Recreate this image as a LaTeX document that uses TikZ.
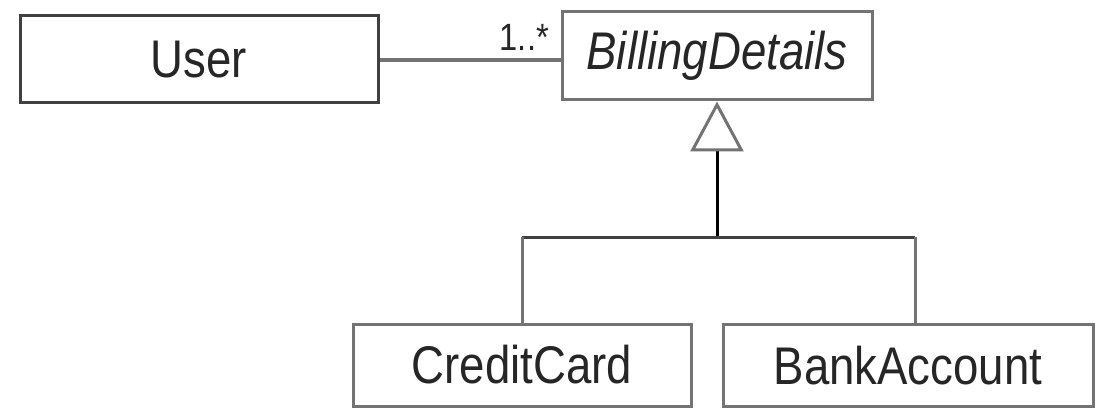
\documentclass[tikz,border=0pt]{standalone}
\usepackage{fontspec}
\newfontfamily\umlfont[FakeStretch=0.86]{Liberation Sans}
\usetikzlibrary{arrows.meta}
\tikzset{
  cls/.style={draw=#1, line width=3pt, fill=white, inner sep=0pt, font=\umlfont\fontsize{53}{60}\selectfont, text=black!85},
  cls/.default={black!55},
  link/.style={line width=3pt, draw=black!55},
}
\begin{document}
\begin{tikzpicture}[x=1pt,y=-1pt]
\useasboundingbox[fill=white] (0,0) rectangle (1095,409);
\node[cls=black!75, minimum width=358pt, minimum height=87pt] (user) at (199,59.5) {User};
\node[cls, minimum width=310pt, minimum height=88pt] (bd) at (717,56) {\itshape BillingDetails};
\node[cls, minimum width=338pt, minimum height=82pt] (cc) at (522,365) {CreditCard};
\node[cls, minimum width=370pt, minimum height=82pt] (ba) at (908,365.5) {BankAccount};
\coordinate (join) at (717,237);
\coordinate (lj) at (522,237);
\coordinate (rj) at (915,237);
\draw[link, line width=3.5pt] (user.east |- 0,60) -- (bd.west |- 0,60);
\node[font=\umlfont\fontsize{38}{42}\selectfont, anchor=south east, inner sep=0pt, text=black!85] (mult) at (549,51) {1..*};
\draw[line width=3pt, black, -{Triangle[open, length=50pt, width=53pt, line width=3pt, color=black!55, fill=white]}] (join) -- (bd.south);
\draw[link, draw=black!75] (lj) -- (rj);
\draw[link] (lj) -- (cc.north);
\draw[link] (rj) -- (rj |- ba.north);
\end{tikzpicture}
\end{document}
